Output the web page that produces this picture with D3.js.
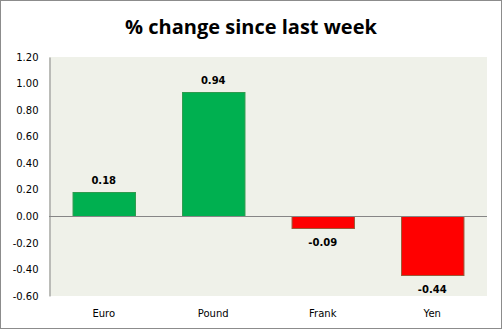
<!DOCTYPE html>
<html>
<head>
<meta charset="utf-8">
<script src="https://cdn.jsdelivr.net/npm/d3@7"></script>
<style>
  html, body { margin: 0; padding: 0; background: #fff; }
  svg { display: block; }
</style>
</head>
<body>
<svg id="chart" width="502" height="329"></svg>
<script>
// Weekly currency moves (%)
const categories = ["Euro", "Pound", "Frank", "Yen"];
const values = [0.18, 0.94, -0.09, -0.44];
const tickValues = [-0.6, -0.4, -0.2, 0, 0.2, 0.4, 0.6, 0.8, 1.0, 1.2];
const title = "% change since last week";

const W = 502, H = 329;
const margin = { left: 49, right: 15, top: 57, bottom: 33 };
const svg = d3.select("#chart");

// Plain hyphen for negative numbers
const fmt = d3.formatLocale({
  decimal: ".", thousands: ",", grouping: [3], currency: ["", ""], minus: "-"
}).format(".2f");

// Outer frame
svg.append("rect")
  .attr("x", 0.5).attr("y", 0.5)
  .attr("width", W - 1).attr("height", H - 1)
  .attr("fill", "#fff").attr("stroke", "#8c8c8c").attr("stroke-width", 1);

const x = d3.scaleBand()
  .domain(categories)
  .range([margin.left, W - margin.right])
  .paddingInner(0.43)
  .paddingOuter(0.215);

const y = d3.scaleLinear()
  .domain([-0.6, 1.2])
  .range([H - margin.bottom, margin.top]);

// Plot area background
svg.append("rect")
  .attr("x", margin.left).attr("y", margin.top)
  .attr("width", W - margin.right - margin.left)
  .attr("height", y(-0.6) - y(1.2))
  .attr("fill", "#eff1e9");

// Title
svg.append("text")
  .attr("x", W / 2).attr("y", 34)
  .attr("text-anchor", "middle")
  .attr("font-family", "'Open Sans', 'DejaVu Sans', sans-serif")
  .attr("font-weight", "bold")
  .attr("font-size", 20)
  .attr("fill", "#000")
  .text(title);

// Bars
svg.append("g").selectAll("rect")
  .data(values)
  .join("rect")
  .attr("x", (d, i) => x(categories[i]) + 0.5)
  .attr("y", d => Math.round(y(Math.max(0, d))) + 0.5)
  .attr("width", x.bandwidth())
  .attr("height", d => Math.abs(Math.round(y(d)) - Math.round(y(0))))
  .attr("fill", d => d >= 0 ? "#00b050" : "#ff0000")
  .attr("stroke", d => d >= 0 ? "#2f9a4e" : "#9a5a3a")
  .attr("stroke-width", 1);

// Zero line
svg.append("line")
  .attr("x1", margin.left).attr("x2", W - margin.right)
  .attr("y1", Math.round(y(0)) + 0.5).attr("y2", Math.round(y(0)) + 0.5)
  .attr("stroke", "#868686").attr("stroke-width", 1);

// Y axis
const yAxis = d3.axisLeft(y)
  .tickValues(tickValues)
  .tickSize(0)
  .tickPadding(11)
  .tickFormat(fmt);
const gy = svg.append("g")
  .attr("transform", `translate(${margin.left + 0.5},0)`)
  .call(yAxis);
gy.select(".domain").attr("stroke", "#868686");
gy.selectAll("text")
  .attr("font-family", "'DejaVu Sans', sans-serif")
  .attr("font-size", 10)
  .attr("fill", "#000");

// Category labels
svg.append("g").selectAll("text")
  .data(categories)
  .join("text")
  .attr("x", d => x(d) + x.bandwidth() / 2)
  .attr("y", 317)
  .attr("text-anchor", "middle")
  .attr("font-family", "'DejaVu Sans', sans-serif")
  .attr("font-size", 10)
  .attr("fill", "#000")
  .text(d => d);

// Value labels
svg.append("g").selectAll("text")
  .data(values)
  .join("text")
  .attr("x", (d, i) => x(categories[i]) + x.bandwidth() / 2)
  .attr("y", d => d >= 0 ? y(d) - 8 : y(d) + 18)
  .attr("text-anchor", "middle")
  .attr("font-family", "'DejaVu Sans', sans-serif")
  .attr("font-weight", "bold")
  .attr("font-size", 10)
  .attr("fill", "#000")
  .text(d => fmt(d));
</script>
</body>
</html>
